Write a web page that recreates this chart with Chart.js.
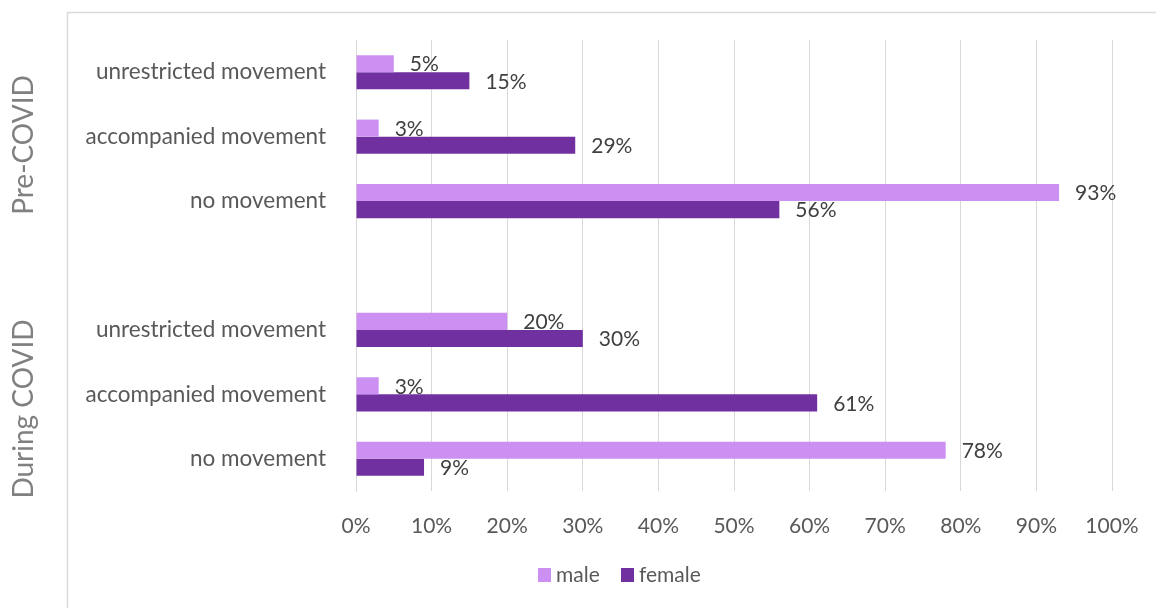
<!DOCTYPE html>
<html>
<head>
<meta charset="utf-8">
<script src="https://cdn.jsdelivr.net/npm/chart.js@4.4.1/dist/chart.umd.min.js"></script>
<style>
    body { margin: 0; background: #fff; }
    canvas { display: block; }
</style>
</head>
<body>
<canvas id="chartMovement" width="1156" height="608"></canvas>
<script>
// categories top to bottom, the empty one is the gap between the two groups
var categories = ['unrestricted movement', 'accompanied movement', 'no movement', '',
                  'unrestricted movement', 'accompanied movement', 'no movement'];
var groupLabels = ['Pre-COVID', 'During COVID'];
var maleValues = [5, 3, 93, null, 20, 3, 78];
var femaleValues = [15, 29, 56, null, 30, 61, 9];
var xTicks = [0, 10, 20, 30, 40, 50, 60, 70, 80, 90, 100];

Chart.defaults.font.family = 'Lato, "Noto Sans", sans-serif';

// frame of the original chart box, rotated group labels, legend
var framePlugin = {
    id: 'frame',
    beforeDraw: function (chart) {
        var ctx = chart.ctx;
        ctx.save();
        ctx.strokeStyle = '#d9d9d9';
        ctx.lineWidth = 1.5;
        ctx.beginPath();
        ctx.moveTo(67.5, 608);
        ctx.lineTo(67.5, 12.5);
        ctx.lineTo(1156, 12.5);
        ctx.stroke();
        ctx.restore();
    },
    afterDraw: function (chart) {
        var ctx = chart.ctx;
        var centers = [145, 409];
        ctx.save();
        ctx.fillStyle = '#808080';
        ctx.font = '28px Lato';
        ctx.textAlign = 'center';
        ctx.textBaseline = 'alphabetic';
        for (var i = 0; i < groupLabels.length; i++) {
            ctx.save();
            ctx.translate(33, centers[i]);
            ctx.rotate(-Math.PI / 2);
            ctx.fillText(groupLabels[i], 0, 0);
            ctx.restore();
        }
        ctx.restore();

        // legend
        var legendX = [538, 621];
        var legendY = 575;
        ctx.save();
        ctx.font = '21px Lato';
        ctx.textAlign = 'left';
        ctx.textBaseline = 'middle';
        chart.data.datasets.forEach(function (ds, di) {
            ctx.fillStyle = ds.backgroundColor;
            ctx.fillRect(legendX[di], legendY - 7, 13, 14);
            ctx.fillStyle = '#595959';
            ctx.fillText(ds.label, legendX[di] + 18, legendY);
        });
        ctx.restore();
    }
};

// value labels at the end of each bar
var valueLabels = {
    id: 'valueLabels',
    afterDatasetsDraw: function (chart) {
        var ctx = chart.ctx;
        ctx.save();
        ctx.fillStyle = '#404040';
        ctx.font = '21px Lato';
        ctx.textAlign = 'left';
        ctx.textBaseline = 'middle';
        chart.data.datasets.forEach(function (ds, di) {
            var meta = chart.getDatasetMeta(di);
            meta.data.forEach(function (bar, i) {
                if (ds.data[i] == null) return;
                ctx.fillText(ds.data[i] + '%', bar.x + 16, bar.y + 1);
            });
        });
        ctx.restore();
    }
};

const ctx = document.getElementById('chartMovement').getContext('2d');
const myChart = new Chart(ctx, {
    type: 'bar',
    data: {
        labels: categories,
        datasets: [{
            label: 'male',
            data: maleValues,
            backgroundColor: '#cc8ff2',
            borderWidth: 0,
            barPercentage: 1,
            categoryPercentage: 0.53
        }, {
            label: 'female',
            data: femaleValues,
            backgroundColor: '#7030a0',
            borderWidth: 0,
            barPercentage: 1,
            categoryPercentage: 0.53
        }]
    },
    options: {
        indexAxis: 'y',
        responsive: false,
        animation: false,
        layout: {
            padding: { top: 40, right: 44, bottom: 52, left: 0 }
        },
        plugins: {
            legend: { display: false },
            tooltip: { enabled: false }
        },
        scales: {
            x: {
                min: 0,
                max: 100,
                afterBuildTicks: function (scale) {
                    scale.ticks = xTicks.map(function (v) { return { value: v }; });
                },
                afterFit: function (scale) {
                    scale.height = 65;
                    scale.paddingLeft = 0;
                    scale.paddingRight = 0;
                },
                grid: { color: '#d9d9d9', lineWidth: 1, drawTicks: false },
                border: { display: false },
                ticks: {
                    padding: 23,
                    color: '#595959',
                    font: { size: 21 },
                    callback: function (v) { return v + '%'; }
                }
            },
            y: {
                afterFit: function (scale) {
                    scale.width = 356;
                    scale.paddingTop = 0;
                    scale.paddingBottom = 0;
                },
                grid: { display: false, drawTicks: false },
                border: { display: true, color: '#d9d9d9', width: 1 },
                ticks: {
                    padding: 30,
                    color: '#595959',
                    font: { size: 22.5 }
                }
            }
        }
    },
    plugins: [framePlugin, valueLabels]
});
</script>
</body>
</html>
